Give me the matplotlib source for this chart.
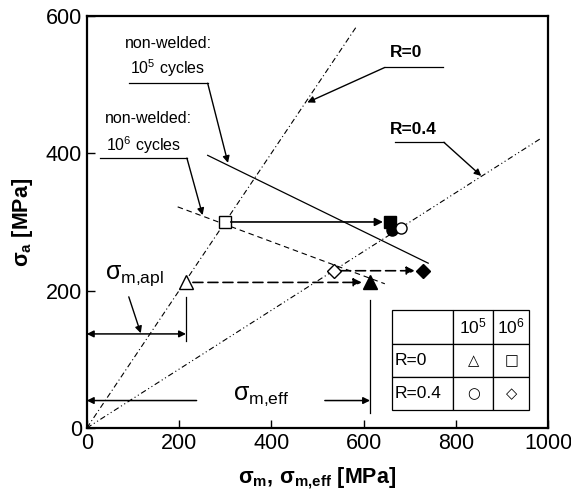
import numpy as np
import matplotlib
matplotlib.use("Agg")
import matplotlib.pyplot as plt
from matplotlib.ticker import MultipleLocator

plt.rcParams['font.family'] = ['Liberation Sans', 'DejaVu Sans']
plt.rcParams['mathtext.fontset'] = 'custom'
plt.rcParams['mathtext.rm'] = 'Liberation Sans'
plt.rcParams['mathtext.it'] = 'Liberation Sans'
plt.rcParams['mathtext.bf'] = 'Liberation Sans:bold'

# load ratio lines (sigma_m, sigma_a)
r0_x = [0, 585]
r0_y = [0, 585]
r04_x = [0, 985]
r04_y = [0, 422]

# non-welded Haigh lines
haigh5_x = [262, 740]
haigh5_y = [397, 240]
haigh6_x = [197, 646]
haigh6_y = [322, 210]

# applied (open) and effective (filled) mean stresses
tri_apl = (215, 212)
tri_eff = (614, 212)
sq_apl = (300, 300)
sq_eff = (657, 300)
dia_apl = (535, 229)
dia_eff = (729, 229)
circ_open = (680, 291)
circ_fill = (662, 289)

# table
table_rows = ["", "R=0", "R=0.4"]
table_cols = ["$10^5$", "$10^6$"]
table_marks = [["△", "□"], ["○", "◇"]]

fig = plt.figure(figsize=(5.71, 4.90), dpi=100)
ax = fig.add_axes([0.152, 0.1265, 0.808, 0.841])

ax.plot(r0_x, r0_y, color="black", lw=0.8, dashes=(5, 2.5, 1, 2.5))
ax.plot(r04_x, r04_y, color="black", lw=0.8, dashes=(5, 2.5, 1, 2.5, 1, 2.5))
ax.plot(haigh5_x, haigh5_y, color="black", lw=0.9)
ax.plot(haigh6_x, haigh6_y, color="black", lw=0.8, dashes=(5, 3.5))

# shift arrows
ax.annotate("", xy=sq_eff, xytext=sq_apl,
            arrowprops=dict(arrowstyle="-|>", color="black", lw=1.2,
                            mutation_scale=12, shrinkA=4, shrinkB=5))
ax.annotate("", xy=tri_eff, xytext=tri_apl,
            arrowprops=dict(arrowstyle="-|>", color="black", lw=1.2,
                            linestyle=(0, (6, 3)), mutation_scale=12,
                            shrinkA=5, shrinkB=6))
ax.annotate("", xy=dia_eff, xytext=dia_apl,
            arrowprops=dict(arrowstyle="-|>", color="black", lw=1.2,
                            linestyle=(0, (6, 3)), mutation_scale=12,
                            shrinkA=5, shrinkB=6))

# markers
ax.plot(*circ_fill, marker="o", ms=8, mfc="black", mec="black", ls="none")
ax.plot(*sq_eff, marker="s", ms=8, mfc="black", mec="black", ls="none")
ax.plot(*circ_open, marker="o", ms=8, mfc="white", mec="black", mew=1, ls="none")
ax.plot(*tri_eff, marker="^", ms=10, mfc="black", mec="black", ls="none")
ax.plot(*dia_eff, marker="D", ms=7, mfc="black", mec="black", ls="none")
ax.plot(*sq_apl, marker="s", ms=8, mfc="white", mec="black", mew=1, ls="none")
ax.plot(*tri_apl, marker="^", ms=10, mfc="white", mec="black", mew=1, ls="none")
ax.plot(*dia_apl, marker="D", ms=7, mfc="white", mec="black", mew=1, ls="none")

# sigma_m,apl dimension
ax.plot([tri_apl[0], tri_apl[0]], [126, 191], color="black", lw=0.9)
ax.annotate("", xy=(0, 137), xytext=(tri_apl[0], 137),
            arrowprops=dict(arrowstyle="<|-|>", color="black", lw=1.1,
                            mutation_scale=10, shrinkA=0, shrinkB=0))
ax.annotate("", xy=(117, 138), xytext=(91, 191),
            arrowprops=dict(arrowstyle="-|>", color="black", lw=1,
                            mutation_scale=10, shrinkA=0, shrinkB=0))
ax.text(103, 222, r"$\sigma_{m{,}apl}$", fontsize=18, ha="center", va="center")

# sigma_m,eff dimension
ax.plot([tri_eff[0], tri_eff[0]], [22, 186], color="black", lw=0.9)
ax.annotate("", xy=(0, 40), xytext=(238, 40),
            arrowprops=dict(arrowstyle="-|>", color="black", lw=1.1,
                            mutation_scale=10, shrinkA=0, shrinkB=0))
ax.annotate("", xy=(tri_eff[0], 40), xytext=(516, 40),
            arrowprops=dict(arrowstyle="-|>", color="black", lw=1.1,
                            mutation_scale=10, shrinkA=0, shrinkB=0))
ax.text(377, 46, r"$\sigma_{m{,}eff}$", fontsize=18, ha="center", va="center")

# leaders
ax.plot([91, 262], [502, 502], color="black", lw=0.9)
ax.annotate("", xy=(306, 386), xytext=(262, 502),
            arrowprops=dict(arrowstyle="-|>", color="black", lw=1,
                            mutation_scale=10, shrinkA=0, shrinkB=0))
ax.text(82, 560, "non-welded:", fontsize=11.5, ha="left", va="center")
ax.text(93, 524, "$10^5$ cycles", fontsize=11.5, ha="left", va="center")

ax.plot([28, 217], [393, 393], color="black", lw=0.9)
ax.annotate("", xy=(251, 310), xytext=(217, 393),
            arrowprops=dict(arrowstyle="-|>", color="black", lw=1,
                            mutation_scale=10, shrinkA=0, shrinkB=0))
ax.text(39, 451, "non-welded:", fontsize=11.5, ha="left", va="center")
ax.text(41, 412, "$10^6$ cycles", fontsize=11.5, ha="left", va="center")

ax.plot([646, 772], [525, 525], color="black", lw=0.9)
ax.annotate("", xy=(478, 474), xytext=(646, 525),
            arrowprops=dict(arrowstyle="-|>", color="black", lw=1,
                            mutation_scale=10, shrinkA=0, shrinkB=0))
ax.text(657, 547, "R=0", fontsize=12.5, fontweight="bold", ha="left", va="center")

ax.plot([668, 774], [416, 416], color="black", lw=0.9)
ax.annotate("", xy=(855, 367), xytext=(774, 416),
            arrowprops=dict(arrowstyle="-|>", color="black", lw=1,
                            mutation_scale=10, shrinkA=0, shrinkB=0))
ax.text(657, 434, "R=0.4", fontsize=12.5, fontweight="bold", ha="left", va="center")

# symbol table
cells = [[table_rows[0]] + table_cols]
for name, marks in zip(table_rows[1:], table_marks):
    cells.append([name] + marks)
tab = ax.table(cellText=cells, colWidths=[0.132, 0.087, 0.078],
               bbox=[0.662, 0.043, 0.297, 0.243], cellLoc="center")
tab.auto_set_font_size(False)
for (r, c), cell in tab.get_celld().items():
    cell.set_linewidth(0.9)
    cell.get_text().set_fontsize(12.5)
    if c == 0:
        cell.get_text().set_ha("left")
        cell.PAD = 0.04
    if c > 0 and r > 0:
        cell.get_text().set_fontfamily(["DejaVu Sans"])
        cell.get_text().set_fontsize(10.5)

ax.set_xlim(0, 1000)
ax.set_ylim(0, 600)
ax.xaxis.set_major_locator(MultipleLocator(200))
ax.yaxis.set_major_locator(MultipleLocator(200))
ax.tick_params(direction="in", length=6, width=1, labelsize=15.5)
for s in ax.spines.values():
    s.set_linewidth(1.6)

ax.set_xlabel(r"$\mathbf{\sigma_{m},\,\sigma_{m{,}eff}}$ [MPa]", fontsize=15.5,
              fontweight="bold", labelpad=8)
ax.set_ylabel(r"$\mathbf{\sigma_{a}}$ [MPa]", fontsize=15.5, fontweight="bold",
              labelpad=8)

fig.savefig("out.png", dpi=100)
